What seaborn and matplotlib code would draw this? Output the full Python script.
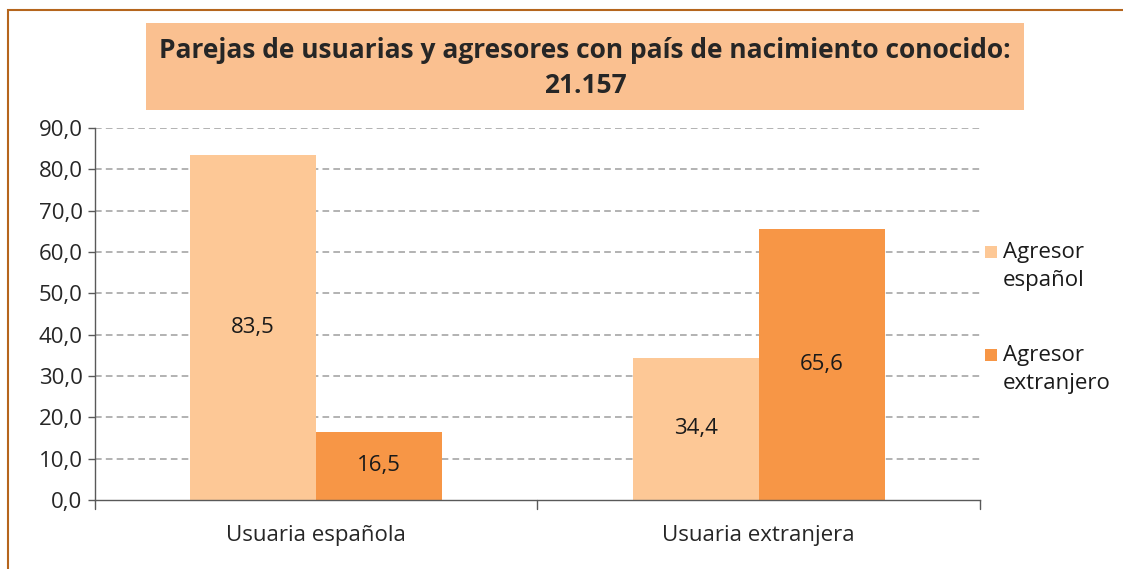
import matplotlib
matplotlib.use("Agg")
import matplotlib.pyplot as plt
from matplotlib.patches import Rectangle
import pandas as pd
import seaborn as sns

categories = ["Usuaria española", "Usuaria extranjera"]
series = ["Agresor\nespañol", "Agresor\nextranjero"]
espanol = [83.5, 34.4]
extranjero = [16.5, 65.6]
title = "Parejas de usuarias y agresores con país de nacimiento conocido:\n21.157"
colors = ["#FDC896", "#F79646"]

df = pd.DataFrame({
    "cat": categories * 2,
    "serie": [series[0]] * 2 + [series[1]] * 2,
    "val": espanol + extranjero,
})

sns.set_style("white")
plt.rcParams["font.family"] = ["Open Sans", "DejaVu Sans"]

W, H = 1123, 569
fig = plt.figure(figsize=(W / 100, H / 100), dpi=100)
ax = fig.add_axes([0.0846, 0.1213, 0.788, 0.6537])

sns.barplot(data=df, x="cat", y="val", hue="serie", palette=colors,
            width=0.57, saturation=1, ax=ax, legend=False, linewidth=0)

ax.set_xlabel("")
ax.set_ylabel("")
ax.set_ylim(0, 90)
ax.set_xlim(-0.5, 1.5)
ax.set_yticks(range(0, 91, 10))
ax.set_yticklabels([f"{v:.1f}".replace(".", ",") for v in range(0, 91, 10)], fontsize=16)
ax.set_xticks([0, 1])
ax.set_xticklabels(categories, fontsize=16)
ax.tick_params(axis="x", length=0, pad=18)
ax.tick_params(axis="y", length=5, width=1, color="#595959", direction="out", left=True, pad=4)
for v in range(10, 91, 10):
    ax.axhline(v, color="#A6A6A6", lw=1.2, ls=(0, (4, 2.5)), zorder=0)
for x in [-0.5, 0.5, 1.5]:
    ax.plot([x, x], [0, -2.2], color="#595959", lw=1, clip_on=False)
for s in ["top", "right"]:
    ax.spines[s].set_visible(False)
for s in ["left", "bottom"]:
    ax.spines[s].set_color("#595959")
    ax.spines[s].set_linewidth(1)

for cont in ax.containers:
    for bar in cont:
        h = bar.get_height()
        ax.text(bar.get_x() + bar.get_width() / 2, h / 2, f"{h:.1f}".replace(".", ","),
                ha="center", va="center", fontsize=16, color="#1a1a1a")

# legend drawn by hand so the square sits beside the first line
for i, (lab, c) in enumerate(zip(series, colors)):
    yc = 252 + i * 103
    fig.patches.append(Rectangle((985 / W, 1 - (yc + 6) / H), 12 / W, 12 / H,
                                 transform=fig.transFigure, facecolor=c, edgecolor="none"))
    fig.text(1003 / W, 1 - (yc - 10) / H, lab, ha="left", va="top",
             fontsize=16, linespacing=1.45, color="#1a1a1a")

# title box
fig.patches.append(Rectangle((146 / W, 1 - 110 / H), 878 / W, 87 / H,
                             transform=fig.transFigure, facecolor="#FAC090",
                             edgecolor="none", zorder=0))
fig.text(585 / W, 1 - 68 / H, title, ha="center", va="center",
         fontsize=19, fontweight="bold", linespacing=1.35)

# outer frame
fig.patches.append(Rectangle((8 / W, -0.1), 1.2, 1 - 10 / H + 0.1,
                             transform=fig.transFigure, facecolor="none",
                             edgecolor="#B5651D", lw=1.5))

fig.savefig("out.png", dpi=100)
